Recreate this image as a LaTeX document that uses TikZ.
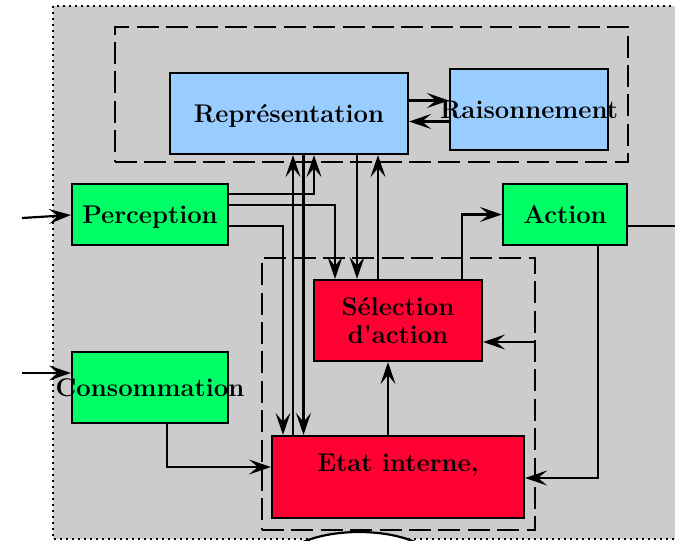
\documentclass[tikz,border=0pt]{standalone}
\usetikzlibrary{arrows.meta,calc,shapes.geometric}
\definecolor{bggray}{HTML}{CCCCCC}
\definecolor{repblue}{HTML}{99CCFF}
\definecolor{modgreen}{HTML}{00FF66}
\definecolor{intred}{HTML}{FF0033}
\tikzset{
  blk/.style={draw=black, line width=1.1pt, inner sep=0pt, text depth=-2pt,
    font=\fontsize{12.8}{14}\selectfont\bfseries, align=center},
  grp/.style={draw=black, line width=1.2pt, dash pattern=on 11pt off 3.7pt, inner sep=0pt},
  link/.style={line width=1.1pt, -{Stealth[length=11pt,width=7.5pt,inset=4.5pt]}},
  wire/.style={line width=1.1pt},
}
\begin{document}
\begin{tikzpicture}[x=0.5pt,y=-0.5pt]
\useasboundingbox (0,0) rectangle (675,541);
\begin{scope}
\clip (0,0) rectangle (675,541);
% outer frame
\draw[fill=bggray, dotted, line width=1pt] (53,6) rectangle (690,539);

% groups
\node[grp, minimum width=256.5pt, minimum height=67.5pt] (grpT) at (371.5,94.5) {};
\node[grp, minimum width=136.5pt, minimum height=136pt] (grpB) at (398.5,394) {};

% blocks
\node[blk, fill=repblue, minimum width=119pt, minimum height=40.5pt] (rep) at (289,113.5) {Représentation};
\node[blk, fill=repblue, minimum width=79pt, minimum height=40.5pt] (rais) at (529,109.5) {\makebox[0pt]{Raisonnement}};
\node[blk, fill=modgreen, minimum width=78pt, minimum height=30.5pt] (perc) at (150,214.5) {Perception};
\node[blk, fill=modgreen, minimum width=62pt, minimum height=30.5pt] (act) at (565,214.5) {Action};
\node[blk, fill=modgreen, minimum width=78pt, minimum height=35.5pt] (cons) at (150,387.5) {\makebox[0pt]{Consommation}};
\node[blk, fill=intred, minimum width=84pt, minimum height=40.5pt] (sel) at (398,320.5) {Sélection\\d\textquotesingle action};
\node[blk, fill=intred, minimum width=126pt, minimum height=41pt] (etat) at (398,477) {Etat interne,\\\mbox{}};

% partly visible ellipse below the frame
\node[draw=black, fill=white, line width=1.1pt, ellipse, minimum width=80pt, minimum height=35pt, inner sep=0pt] (bot) at (359,567) {};

% free ends
\coordinate (inP) at (22,218);
\coordinate (inC) at (22,373);
\coordinate (outA) at (680,226);

% inputs
\draw[link] (inP) -- (perc.west |- 0,215);
\draw[link] (inC) -- (cons.west |- 0,373);

% representation <-> reasoning
\draw[link] (rep.east |- 0,100.5) -- (rais.west |- 0,100.5);
\draw[link] (rais.west |- 0,121.5) -- (rep.east |- 0,121.5);

% perception outputs
\draw[link] (perc.east |- 0,194) -| (314,0 |- rep.south);
\draw[link] (perc.east |- 0,205) -| (335,0 |- sel.north);
\draw[link] (perc.east |- 0,226) -| (283,0 |- etat.north);

% representation <-> internal state
\draw[link] (293,0 |- etat.north) -- (293,0 |- rep.south);
\draw[link] (303.5,0 |- rep.south) -- (303.5,0 |- etat.north);

% representation <-> selection
\draw[link] (357,0 |- rep.south) -- (357,0 |- sel.north);
\draw[link] (378,0 |- sel.north) -- (378,0 |- rep.south);

% selection -> action
\draw[link] (462,0 |- sel.north) |- (act.west);
% action output
\draw[wire] (act.east |- 0,226) -- (outA);
% action -> internal state
\draw[link] (598,0 |- act.south) |- (etat.east |- 0,478);
% group feedback -> selection
\draw[link] (grpB.east |- 0,342) -- (sel.east |- 0,342);
% internal state -> selection
\draw[link] (388,0 |- etat.north) -- (388,0 |- sel.south);
% consumption -> internal state
\draw[link] (167,0 |- cons.south) |- (etat.west |- 0,467);
\end{scope}
\end{tikzpicture}
\end{document}
